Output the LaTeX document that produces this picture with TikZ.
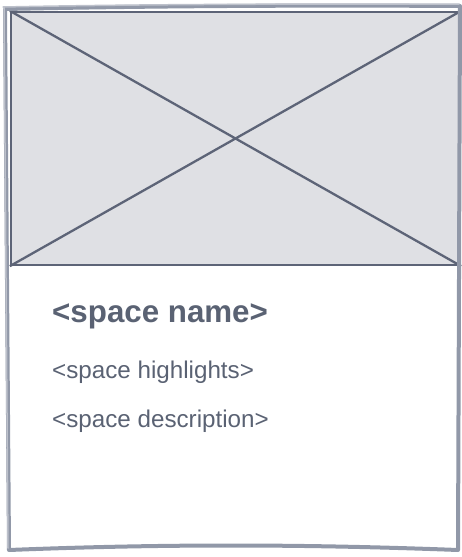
\documentclass[tikz,border=0pt]{standalone}
\usepackage{fontspec}
\setmainfont{Liberation Sans}
\usetikzlibrary{positioning}
\definecolor{wireframe}{HTML}{5D6477}
\definecolor{cardedge}{HTML}{9198A8}
\definecolor{imgfill}{HTML}{DFE0E4}
\definecolor{cardtext}{HTML}{5A6273}

\begin{document}
\begin{tikzpicture}[x=1pt, y=-1pt,
    placeholder/.style={rectangle, draw=wireframe, fill=imgfill, line width=2.3pt, minimum width=449pt, minimum height=253pt, inner sep=0pt},
    cardtitle/.style={anchor=base west, inner sep=0pt, text=cardtext, font=\fontsize{31.3}{36}\selectfont\bfseries},
    cardline/.style={anchor=base west, inner sep=0pt, text=cardtext, font=\fontsize{24.2}{29}\selectfont},
    sketch/.style={draw=cardedge, line width=4pt, line join=round, line cap=round}
]
\useasboundingbox (0,0) rectangle (462,557);

% image placeholder
\node[placeholder] (photo) at (235.5,138.5) {};
\draw[wireframe, line width=2.3pt] (photo.north west) -- (photo.south east)
    (photo.north east) -- (photo.south west);

% texts
\node[cardtitle] (name) at (52,322) {<space name>};
\node[cardline] (highlights) at (52,378) {<space highlights>};
\node[cardline] (description) at (52,427) {<space description>};

% hand drawn card outline
\draw[sketch] (5,9) .. controls (150,6) and (300,5) .. (460,6) -- (458,550)
    .. controls (300,544) and (160,544) .. (9,550) -- cycle;
\draw[sketch, cardedge!60, line width=1.5pt] (3,7) .. controls (150,4) and (300,4) .. (459,4)
    (4,8) -- (8,548);

\end{tikzpicture}
\end{document}
